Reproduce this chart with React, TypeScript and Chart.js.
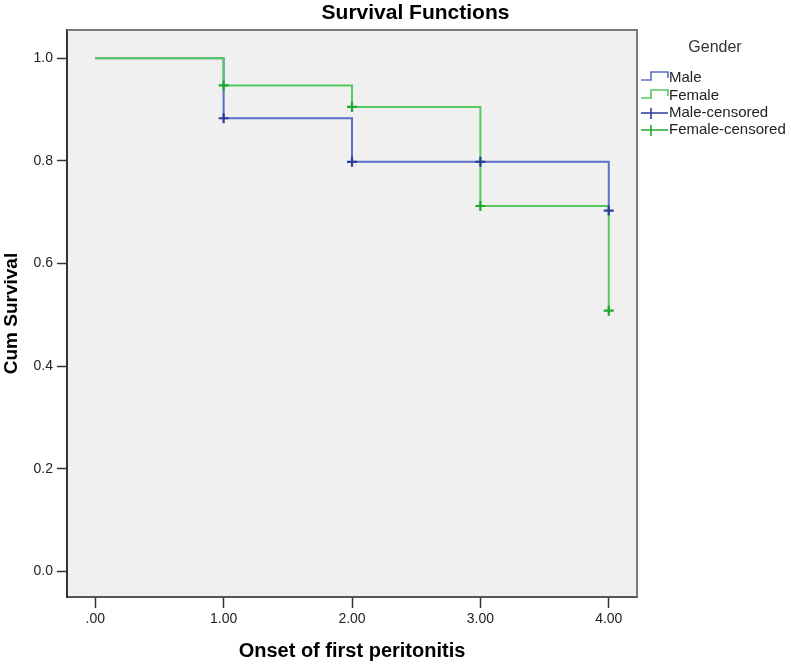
import React, { useEffect, useRef } from 'react';
import { Chart, registerables } from 'chart.js';

Chart.register(...registerables);

const FONT = '"Liberation Sans", Arial, Helvetica, sans-serif';

const chartTitle = 'Survival Functions';
const xAxisTitle = 'Onset of first peritonitis';
const yAxisTitle = 'Cum Survival';
const legendTitle = 'Gender';
const seriesNames = ['Male', 'Female', 'Male-censored', 'Female-censored'];

const stepTimes = [0, 1, 2, 3, 4];
const maleSurvival = [1.0, 0.883, 0.798, 0.798, 0.703];
const femaleSurvival = [1.0, 0.947, 0.905, 0.712, 0.508];

const censorTimes = [1, 2, 3, 4];
const maleCensorValues = [0.883, 0.798, 0.798, 0.703];
const femaleCensorValues = [0.947, 0.905, 0.712, 0.508];

const xTickValues = [0, 1, 2, 3, 4];
const xTickLabels = ['.00', '1.00', '2.00', '3.00', '4.00'];
const yTickValues = [0, 0.2, 0.4, 0.6, 0.8, 1.0];
const yTickLabels = ['0.0', '0.2', '0.4', '0.6', '0.8', '1.0'];

const COLORS = {
  maleLine: '#5b6fc6',
  femaleLine: '#56c95f',
  maleCross: '#2c3e9a',
  femaleCross: '#1fa82f',
};

const toPoints = (xs: number[], ys: number[]) => xs.map((x, i) => ({ x, y: ys[i] }));

const backgroundPlugin = {
  id: 'plotBackground',
  beforeDraw(chart: any) {
    const { ctx, chartArea } = chart;
    ctx.save();
    ctx.fillStyle = '#f0f0f0';
    ctx.fillRect(chartArea.left, chartArea.top, chartArea.right - chartArea.left, chartArea.bottom - chartArea.top);
    ctx.restore();
  },
  afterDraw(chart: any) {
    const { ctx, chartArea } = chart;
    ctx.save();
    ctx.strokeStyle = '#7a7a7a';
    ctx.lineWidth = 2;
    ctx.beginPath();
    ctx.moveTo(chartArea.left, chartArea.top);
    ctx.lineTo(chartArea.right, chartArea.top);
    ctx.lineTo(chartArea.right, chartArea.bottom);
    ctx.stroke();
    ctx.restore();
  },
};

const titlePlugin = {
  id: 'spssTitle',
  afterDraw(chart: any) {
    const { ctx } = chart;
    ctx.save();
    ctx.fillStyle = '#000';
    ctx.font = `bold 21px ${FONT}`;
    ctx.textAlign = 'center';
    ctx.textBaseline = 'alphabetic';
    ctx.fillText(chartTitle, chart.width / 2 + 20, 19);
    ctx.restore();
  },
};

const legendPlugin = {
  id: 'spssLegend',
  afterDraw(chart: any) {
    const { ctx, chartArea } = chart;
    const x0 = chartArea.right + 4;
    const top = chartArea.top;
    ctx.save();
    ctx.fillStyle = '#333';
    ctx.font = `16px ${FONT}`;
    ctx.textAlign = 'center';
    ctx.textBaseline = 'middle';
    ctx.fillText(legendTitle, x0 + 74, top + 18);

    const rows = [48, 66, 83, 100];
    const kinds = ['line', 'line', 'cross', 'cross'];
    const cols = [COLORS.maleLine, COLORS.femaleLine, COLORS.maleCross, COLORS.femaleCross];
    seriesNames.forEach((name, i) => {
      const cy = top + rows[i];
      ctx.strokeStyle = cols[i];
      ctx.lineWidth = 1.6;
      ctx.beginPath();
      if (kinds[i] === 'line') {
        ctx.moveTo(x0, cy + 2);
        ctx.lineTo(x0 + 10, cy + 2);
        ctx.lineTo(x0 + 10, cy - 6);
        ctx.lineTo(x0 + 27, cy - 6);
        ctx.lineTo(x0 + 27, cy);
      } else {
        ctx.moveTo(x0, cy);
        ctx.lineTo(x0 + 27, cy);
        ctx.moveTo(x0 + 10, cy - 5);
        ctx.lineTo(x0 + 10, cy + 6);
      }
      ctx.stroke();
      ctx.fillStyle = '#222';
      ctx.font = `15px ${FONT}`;
      ctx.textAlign = 'left';
      ctx.textBaseline = 'middle';
      ctx.fillText(name, x0 + 28, cy);
    });
    ctx.restore();
  },
};

export default function App() {
  const canvasRef = useRef<HTMLCanvasElement | null>(null);

  useEffect(() => {
    const canvas = canvasRef.current;
    if (!canvas) return;
    const chart = new Chart(canvas, {
      type: 'line',
      data: {
        datasets: [
          {
            label: seriesNames[0],
            data: toPoints(stepTimes, maleSurvival),
            borderColor: COLORS.maleLine,
            borderWidth: 2,
            stepped: 'before',
            pointRadius: 0,
            fill: false,
            order: 3,
          },
          {
            label: seriesNames[1],
            data: toPoints(stepTimes, femaleSurvival),
            borderColor: COLORS.femaleLine,
            borderWidth: 2,
            stepped: 'before',
            pointRadius: 0,
            fill: false,
            order: 2,
          },
          {
            label: seriesNames[2],
            data: toPoints(censorTimes, maleCensorValues),
            showLine: false,
            pointStyle: 'cross',
            pointRadius: 5,
            pointBorderWidth: 2.2,
            borderColor: COLORS.maleCross,
            backgroundColor: COLORS.maleCross,
            order: 1,
          },
          {
            label: seriesNames[3],
            data: toPoints(censorTimes, femaleCensorValues),
            showLine: false,
            pointStyle: 'cross',
            pointRadius: 5,
            pointBorderWidth: 2.2,
            borderColor: COLORS.femaleCross,
            backgroundColor: COLORS.femaleCross,
            order: 0,
          },
        ],
      },
      options: {
        responsive: false,
        animation: false,
        events: [],
        layout: { padding: { top: 30, right: 154, left: 0, bottom: 0 } },
        plugins: {
          legend: { display: false },
          tooltip: { enabled: false },
          title: { display: false },
        },
        scales: {
          x: {
            type: 'linear',
            min: -0.22,
            max: 4.22,
            afterBuildTicks: (scale: any) => {
              scale.ticks = xTickValues.map((value) => ({ value }));
            },
            afterFit: (scale: any) => {
              scale.height = 69;
            },
            ticks: {
              callback: (_v: any, i: number) => xTickLabels[i],
              font: { family: FONT, size: 14 },
              color: '#222',
              padding: 3,
              maxRotation: 0,
              autoSkip: false,
            },
            grid: {
              drawOnChartArea: false,
              drawTicks: true,
              tickLength: 11,
              tickColor: '#333',
              tickWidth: 1.5,
            },
            border: { display: true, color: '#555', width: 2 },
            title: {
              display: true,
              text: xAxisTitle,
              font: { family: FONT, size: 20, weight: 'bold' },
              color: '#000',
              padding: { top: 0, bottom: 3 },
            },
          },
          y: {
            type: 'linear',
            min: -0.05,
            max: 1.055,
            afterBuildTicks: (scale: any) => {
              scale.ticks = yTickValues.map((value) => ({ value }));
            },
            afterFit: (scale: any) => {
              scale.width = 67;
            },
            ticks: {
              callback: (_v: any, i: number) => yTickLabels[i],
              font: { family: FONT, size: 14 },
              color: '#222',
              padding: 4,
              autoSkip: false,
            },
            grid: {
              drawOnChartArea: false,
              drawTicks: true,
              tickLength: 10,
              tickColor: '#333',
              tickWidth: 1.5,
            },
            border: { display: true, color: '#333', width: 2 },
            title: {
              display: true,
              text: yAxisTitle,
              font: { family: FONT, size: 19, weight: 'bold' },
              color: '#000',
              padding: { top: 0, bottom: 0 },
            },
          },
        },
      } as any,
      plugins: [backgroundPlugin, titlePlugin, legendPlugin],
    });
    return () => chart.destroy();
  }, []);

  return (
    <div style={{ position: 'fixed', left: 0, top: 0, width: 791, height: 666, background: '#fff' }}>
      <canvas ref={canvasRef} width={791} height={666} style={{ width: 791, height: 666, display: 'block' }} />
    </div>
  );
}
